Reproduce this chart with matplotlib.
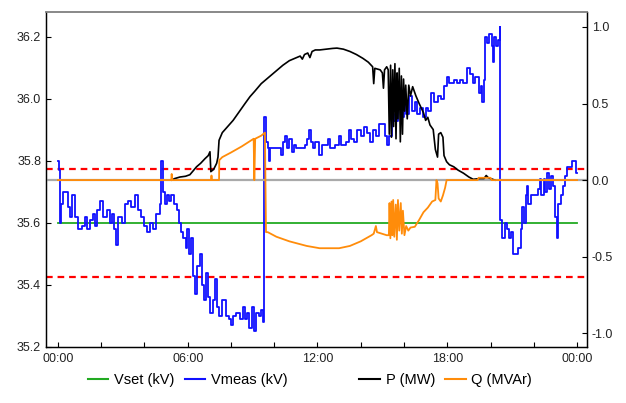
import numpy as np
import matplotlib.pyplot as plt
from matplotlib.lines import Line2D

plt.rcParams['font.family'] = ['Liberation Sans', 'DejaVu Sans']

# 测量电压 (kV), 阶梯数据: 小时, 数值
vmeas_h = [0.00, 0.05, 0.10, 0.15, 0.25, 0.45, 0.55, 0.65, 0.80, 0.95, 1.10, 1.25, 1.35, 1.50,
           1.60, 1.70, 1.80, 1.95, 2.10, 2.25, 2.40, 2.50, 2.60, 2.70, 2.80, 2.95, 3.10, 3.25,
           3.40, 3.55, 3.70, 3.85, 4.00, 4.10, 4.25, 4.40, 4.55, 4.70, 4.78, 4.85, 4.95, 5.05,
           5.15, 5.25, 5.35, 5.50, 5.60, 5.70, 5.80, 5.90, 5.95, 6.05, 6.15, 6.25, 6.35, 6.45,
           6.55, 6.65, 6.75, 6.85, 6.95, 7.05, 7.15, 7.25, 7.35, 7.45, 7.60, 7.75, 7.90, 8.00,
           8.10, 8.25, 8.40, 8.55, 8.65, 8.75, 8.85, 8.95, 9.05, 9.15, 9.30, 9.40, 9.50, 9.55,
           9.62, 9.70, 9.78, 9.82, 10.30, 10.40, 10.50, 10.60, 10.70, 10.80, 10.90, 11.00, 11.40,
           11.50, 11.60, 11.70, 11.80, 11.90, 12.05, 12.20, 12.50, 12.60, 12.80, 13.00, 13.10,
           13.30, 13.45, 13.55, 13.70, 13.85, 14.00, 14.15, 14.30, 14.45, 14.55, 14.70, 14.85,
           15.00, 15.10, 15.20, 15.30, 15.45, 15.55, 15.70, 15.85, 16.00, 16.10, 16.25, 16.35,
           16.50, 16.60, 16.75, 16.90, 17.00, 17.10, 17.25, 17.40, 17.55, 17.70, 17.85, 17.97,
           18.10, 18.30, 18.45, 18.60, 18.75, 18.90, 19.05, 19.20, 19.30, 19.45, 19.55, 19.60,
           19.70, 19.75, 19.85, 19.95, 20.05, 20.10, 20.15, 20.25, 20.35, 20.44, 20.46, 20.55,
           20.65, 20.75, 20.85, 20.95, 21.05, 21.25, 21.40, 21.45, 21.55, 21.62, 21.68, 21.75,
           21.85, 22.10, 22.20, 22.30, 22.35, 22.45, 22.50, 22.60, 22.70, 22.80, 22.90, 23.00,
           23.05, 23.10, 23.25, 23.35, 23.45, 23.55, 23.75, 23.95, 24.00]
vmeas_kv = [35.80, 35.77, 35.60, 35.66, 35.70, 35.65, 35.62, 35.69, 35.62, 35.58, 35.59, 35.62,
            35.58, 35.61, 35.63, 35.59, 35.64, 35.67, 35.62, 35.64, 35.60, 35.63, 35.58, 35.53,
            35.62, 35.60, 35.66, 35.67, 35.65, 35.69, 35.64, 35.62, 35.59, 35.57, 35.60, 35.58,
            35.63, 35.66, 35.80, 35.70, 35.66, 35.69, 35.67, 35.69, 35.66, 35.64, 35.60, 35.57,
            35.55, 35.52, 35.58, 35.50, 35.55, 35.43, 35.37, 35.46, 35.50, 35.40, 35.35, 35.44,
            35.36, 35.31, 35.35, 35.42, 35.33, 35.30, 35.35, 35.30, 35.29, 35.27, 35.30, 35.31,
            35.29, 35.33, 35.29, 35.31, 35.26, 35.33, 35.25, 35.31, 35.30, 35.32, 35.28, 35.94,
            35.86, 35.84, 35.80, 35.84, 35.82, 35.86, 35.88, 35.84, 35.87, 35.83, 35.85, 35.84,
            35.85, 35.87, 35.90, 35.86, 35.84, 35.86, 35.82, 35.85, 35.87, 35.84, 35.85, 35.88,
            35.85, 35.86, 35.90, 35.87, 35.86, 35.90, 35.88, 35.91, 35.89, 35.86, 35.90, 35.88,
            35.92, 35.92, 35.88, 35.85, 35.88, 35.95, 35.93, 35.97, 35.94, 35.98, 35.95, 36.01,
            35.96, 35.99, 35.95, 35.97, 35.94, 35.97, 35.96, 36.02, 35.99, 36.01, 36.00, 36.04,
            36.07, 36.05, 36.06, 36.05, 36.06, 36.05, 36.10, 36.08, 36.05, 36.07, 36.02, 36.04,
            35.99, 36.06, 36.20, 36.18, 36.21, 36.17, 36.12, 36.20, 36.17, 36.19, 36.23, 35.61,
            35.55, 35.60, 35.58, 35.55, 35.57, 35.50, 35.52, 35.58, 35.65, 35.60, 35.69, 35.72,
            35.66, 35.69, 35.69, 35.71, 35.74, 35.69, 35.74, 35.70, 35.76, 35.71, 35.75, 35.72,
            35.62, 35.55, 35.66, 35.69, 35.72, 35.75, 35.78, 35.80, 35.76, 35.76]

# 有功功率 P (MW)
p_h = [5.26, 5.40, 5.64, 5.90, 6.10, 6.25, 6.41, 6.60, 6.80, 6.95, 7.03, 7.07, 7.20, 7.34, 7.40,
       7.45, 7.60, 7.85, 8.10, 8.40, 8.65, 8.88, 9.10, 9.40, 9.65, 9.90, 10.15, 10.40, 10.70,
       10.95, 11.20, 11.30, 11.40, 11.55, 11.65, 11.75, 11.90, 12.10, 12.40, 12.70, 12.90,
       13.20, 13.50, 13.80, 14.10, 14.35, 14.55, 14.60, 14.65, 14.90, 15.00, 15.05, 15.10,
       15.20, 15.27, 15.32, 15.38, 15.42, 15.48, 15.52, 15.58, 15.63, 15.68, 15.72, 15.78,
       15.83, 15.88, 15.93, 15.98, 16.03, 16.08, 16.15, 16.22, 16.30, 16.40, 16.55, 16.70,
       16.90, 17.00, 17.10, 17.20, 17.35, 17.45, 17.55, 17.60, 17.70, 17.80, 17.85, 17.97,
       18.10, 18.30, 18.50, 18.75, 19.00, 19.20, 19.50, 19.70, 19.80, 19.90, 20.00, 20.20]
p_mw = [0.00, 0.01, 0.02, 0.025, 0.035, 0.06, 0.087, 0.11, 0.14, 0.16, 0.185, 0.055, 0.07, 0.11,
        0.15, 0.26, 0.31, 0.35, 0.39, 0.45, 0.50, 0.545, 0.58, 0.63, 0.66, 0.69, 0.72, 0.75,
        0.78, 0.795, 0.81, 0.79, 0.82, 0.83, 0.80, 0.84, 0.85, 0.85, 0.855, 0.86, 0.862, 0.855,
        0.84, 0.82, 0.795, 0.77, 0.74, 0.63, 0.73, 0.72, 0.70, 0.60, 0.72, 0.74, 0.72, 0.30,
        0.75, 0.28, 0.72, 0.35, 0.76, 0.27, 0.70, 0.40, 0.73, 0.25, 0.68, 0.30, 0.66, 0.45,
        0.62, 0.40, 0.62, 0.55, 0.61, 0.55, 0.50, 0.44, 0.39, 0.41, 0.36, 0.33, 0.20, 0.15,
        0.30, 0.31, 0.28, 0.16, 0.12, 0.10, 0.087, 0.065, 0.045, 0.02, 0.005, 0.01, 0.01, 0.03,
        0.015, 0.01, 0.00]

# 无功功率 Q (MVAr)
q_h = [0.00, 5.24, 5.26, 5.28, 7.08, 7.10, 7.12, 7.45, 7.46, 7.60, 8.00, 8.50, 9.05, 9.08, 9.12,
       9.40, 9.57, 9.62, 9.70, 10.10, 10.70, 11.50, 12.10, 13.00, 13.50, 14.00, 14.50, 14.60,
       14.70, 14.75, 15.20, 15.30, 15.33, 15.37, 15.42, 15.46, 15.50, 15.55, 15.62, 15.67,
       15.72, 15.78, 15.85, 15.90, 15.95, 16.02, 16.10, 16.20, 16.30, 16.50, 16.70, 16.90,
       17.10, 17.30, 17.45, 17.50, 17.55, 17.60, 17.70, 17.80, 17.90, 17.97, 19.40, 19.45,
       20.00, 20.05, 24.00]
q_mvar = [0.0, 0.0, 0.04, 0.0, 0.0, 0.03, 0.0, 0.0, 0.13, 0.15, 0.18, 0.22, 0.27, 0.0, 0.27,
          0.29, 0.31, -0.34, -0.34, -0.37, -0.40, -0.43, -0.445, -0.445, -0.43, -0.40, -0.36,
          -0.35, -0.30, -0.34, -0.36, -0.36, -0.15, -0.38, -0.14, -0.36, -0.13, -0.37, -0.16,
          -0.39, -0.13, -0.33, -0.15, -0.35, -0.20, -0.36, -0.30, -0.33, -0.31, -0.305, -0.26,
          -0.21, -0.18, -0.14, -0.13, 0.0, -0.02, -0.12, -0.14, -0.10, -0.05, 0.0, 0.0, 0.015,
          0.015, 0.0, 0.0]

# 设定电压及上下限
vset_kv = 35.6
v_upper = 35.775
v_lower = 35.425

tick_hours = list(range(0, 25, 2))
tick_labels = ['00:00', '', '', '06:00', '', '', '12:00', '', '', '18:00', '', '', '00:00']

fig = plt.figure(figsize=(6.26, 4.03), dpi=100)
ax1 = fig.add_axes([0.0735, 0.139, 0.8642, 0.8313])
ax2 = ax1.twinx()

# 左轴: 电压
ax1.axhline(v_upper, color='red', lw=1.6, ls=(0, (3, 2.2)), zorder=2)
ax1.axhline(v_lower, color='red', lw=1.6, ls=(0, (3, 2.2)), zorder=2)
ax1.plot([0, 24], [vset_kv, vset_kv], color='#22aa22', lw=1.3, zorder=3)
ax1.plot(vmeas_h, vmeas_kv, color='#1010ff', lw=1.3, drawstyle='steps-post', zorder=4)

# 右轴: 功率
ax2.axhline(0, color='#aaaaaa', lw=1.6, zorder=1)
ax2.plot(p_h, p_mw, color='black', lw=1.2, zorder=3)
ax2.plot(q_h, q_mvar, color='#ff8c0a', lw=1.3, zorder=4)

ax1.set_xlim(-0.55, 24.46)
ax1.set_ylim(35.2, 36.28)
ax2.set_ylim(-1.09, 1.098)
ax1.set_xticks(tick_hours)
ax1.set_xticklabels(tick_labels)
ax1.set_yticks([35.2, 35.4, 35.6, 35.8, 36.0, 36.2])
ax2.set_yticks([-1.0, -0.5, 0.0, 0.5, 1.0])
ax1.yaxis.set_major_formatter(plt.FormatStrFormatter('%.1f'))
ax2.yaxis.set_major_formatter(plt.FormatStrFormatter('%.1f'))

for ax in (ax1, ax2):
    ax.tick_params(direction='in', length=3.5, width=0.8, labelsize=9, colors='black',
                   labelcolor='#222222')
    ax.spines['top'].set_color('#888888')
    ax.spines['top'].set_linewidth(1.2)
    for s in ('left', 'right', 'bottom'):
        ax.spines[s].set_linewidth(0.9)
ax1.tick_params(axis='x', pad=4)

h1 = [Line2D([], [], color='#22aa22', lw=1.5), Line2D([], [], color='#1010ff', lw=1.5)]
h2 = [Line2D([], [], color='black', lw=1.5), Line2D([], [], color='#ff8c0a', lw=1.5)]
kw = dict(ncol=2, frameon=False, fontsize=10.5, handlelength=1.4, handletextpad=0.4,
          columnspacing=0.7, loc='center')
fig.legend(h1, ['Vset (kV)', 'Vmeas (kV)'], bbox_to_anchor=(0.30, 0.057), **kw)
fig.legend(h2, ['P (MW)', 'Q (MVAr)'], bbox_to_anchor=(0.712, 0.057), **kw)

fig.savefig('out.png', dpi=100)
